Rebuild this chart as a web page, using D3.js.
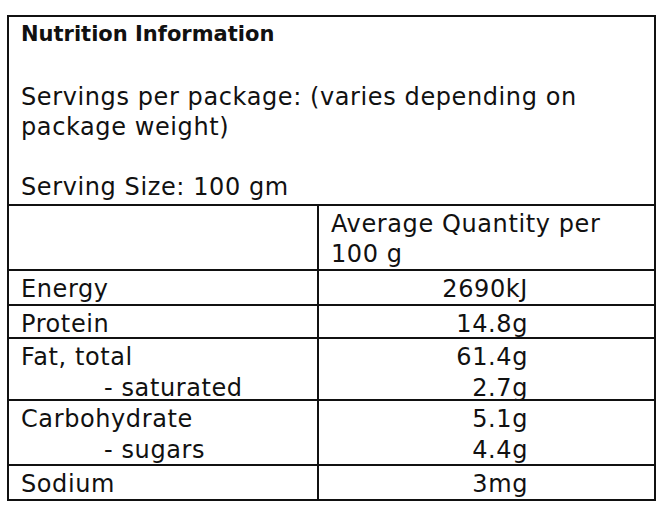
<!DOCTYPE html>
<html><head><meta charset="utf-8">
<script src="https://cdn.jsdelivr.net/npm/d3@7"></script>
<style>body{margin:0;background:#fff}</style>
</head><body>
<div id="chart"></div>
<script>
const title = "Nutrition Information";
const headerLines = ["Servings per package: (varies depending on", "package weight)", "", "Serving Size: 100 gm"];
const colHeader = ["Average Quantity per", "100 g"];
// each group = one bordered row; lines inside it
const groups = [
  [["Energy", "2690kJ"]],
  [["Protein", "14.8g"]],
  [["Fat, total", "61.4g"], ["- saturated", "2.7g", true]],
  [["Carbohydrate", "5.1g"], ["- sugars", "4.4g", true]],
  [["Sodium", "3mg"]]
];

const W = 665, H = 512;
const x0 = 8, x1 = 655, xDiv = 318, xVal = 528;
const svg = d3.select("#chart").append("svg").attr("width", W).attr("height", H)
  .style("font-family", "'DejaVu Sans', sans-serif").style("font-size", "24px")
  .style("letter-spacing", "0.6px").attr("fill", "#111");

// row boundaries
const bounds = [16, 205, 270, 305, 338, 400, 465, 500];
const line = (a, b, c, d) => svg.append("line").attr("x1", a).attr("y1", b).attr("x2", c).attr("y2", d)
  .attr("stroke", "#111").attr("stroke-width", 2);

svg.append("rect").attr("x", x0).attr("y", bounds[0]).attr("width", x1 - x0).attr("height", bounds[7] - bounds[0])
  .attr("fill", "none").attr("stroke", "#111").attr("stroke-width", 2);
bounds.slice(1, -1).forEach(y => line(x0, y, x1, y));
line(xDiv, bounds[1], xDiv, bounds[7]);

svg.append("text").attr("x", 21).attr("y", 41).attr("font-weight", "bold").style("font-size", "21px")
  .style("letter-spacing", "0px").text(title);
headerLines.forEach((t, i) => svg.append("text").attr("x", 21).attr("y", 105 + i * 30).text(t));
colHeader.forEach((t, i) => svg.append("text").attr("x", 331).attr("y", 232 + i * 30).text(t));

groups.forEach((g, gi) => {
  const top = bounds[gi + 2];
  g.forEach((r, li) => {
    const y = top + 27 + li * 31;
    svg.append("text").attr("x", r[2] ? 104 : 21).attr("y", y).text(r[0]);
    svg.append("text").attr("x", xVal).attr("y", y).attr("text-anchor", "end").text(r[1]);
  });
});
</script>
</body></html>
